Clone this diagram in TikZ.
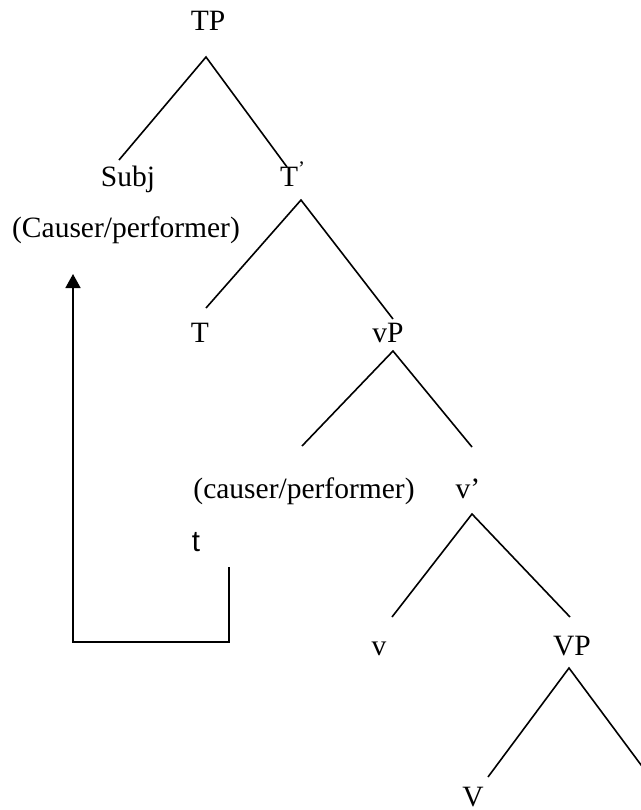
\documentclass[tikz,border=0pt]{standalone}
\usepackage{fontspec}
\setmainfont{Liberation Serif}
\newfontfamily\sansf{Liberation Sans}
\usetikzlibrary{arrows.meta}
\begin{document}
\begin{tikzpicture}[x=0.5pt,y=-0.5pt,
  lbl/.style={anchor=base,inner sep=0pt,font=\fontsize{14.75pt}{17pt}\selectfont},
  branch/.style={line width=0.8pt},
  move/.style={line width=0.8pt,-{Triangle[width=7.5pt,length=7pt]}}]
\useasboundingbox (0,0) rectangle (641,810);
\clip (0,0) rectangle (641,810);

% labels
\node[lbl] (TP)    at (208,30)  {TP};
\node[lbl] (Subj)  at (128,186) {Subj};
\node[lbl] (Cause) at (126,237) {(Causer/performer)};
\node[lbl] (Tbar)  at (293,186) {T\textsuperscript{’}};
\node[lbl] (T)     at (200,342) {T};
\node[lbl] (vP)    at (388,342) {vP};
\node[lbl] (cause) at (304,498) {(causer/performer)};
\node[lbl] (vbar)  at (468,498) {v’};
\node[lbl] (t)     at (196,551) {\sansf t};
\node[lbl] (v)     at (379,655) {v};
\node[lbl] (VP)    at (572,655) {VP};
\node[lbl] (V)     at (473,806) {V};

% branch points
\coordinate (TPa)  at (206,57);
\coordinate (TPl)  at (119,160);
\coordinate (TPr)  at (287,167);
\coordinate (Ta)   at (301,200);
\coordinate (Tl)   at (206,308);
\coordinate (Tr)   at (393,319);
\coordinate (vPa)  at (393,351);
\coordinate (vPl)  at (302,446);
\coordinate (vPr)  at (472,447);
\coordinate (vba)  at (472,514);
\coordinate (vbl)  at (392,617);
\coordinate (vbr)  at (570,617);
\coordinate (VPa)  at (569,668);
\coordinate (VPl)  at (488,777);
\coordinate (VPr)  at (650,777);

\draw[branch] (TPl) -- (TPa) -- (TPr);
\draw[branch] (Tl) -- (Ta) -- (Tr);
\draw[branch] (vPl) -- (vPa) -- (vPr);
\draw[branch] (vbl) -- (vba) -- (vbr);
\draw[branch] (VPl) -- (VPa) -- (VPr);

% movement of the trace up to Subj
\coordinate (mv1) at (229,567);
\coordinate (mv2) at (229,642);
\coordinate (mv3) at (73,642);
\coordinate (mv4) at (73,274);
\draw[move] (mv1) -- (mv2) -- (mv3) -- (mv4);
\end{tikzpicture}
\end{document}
